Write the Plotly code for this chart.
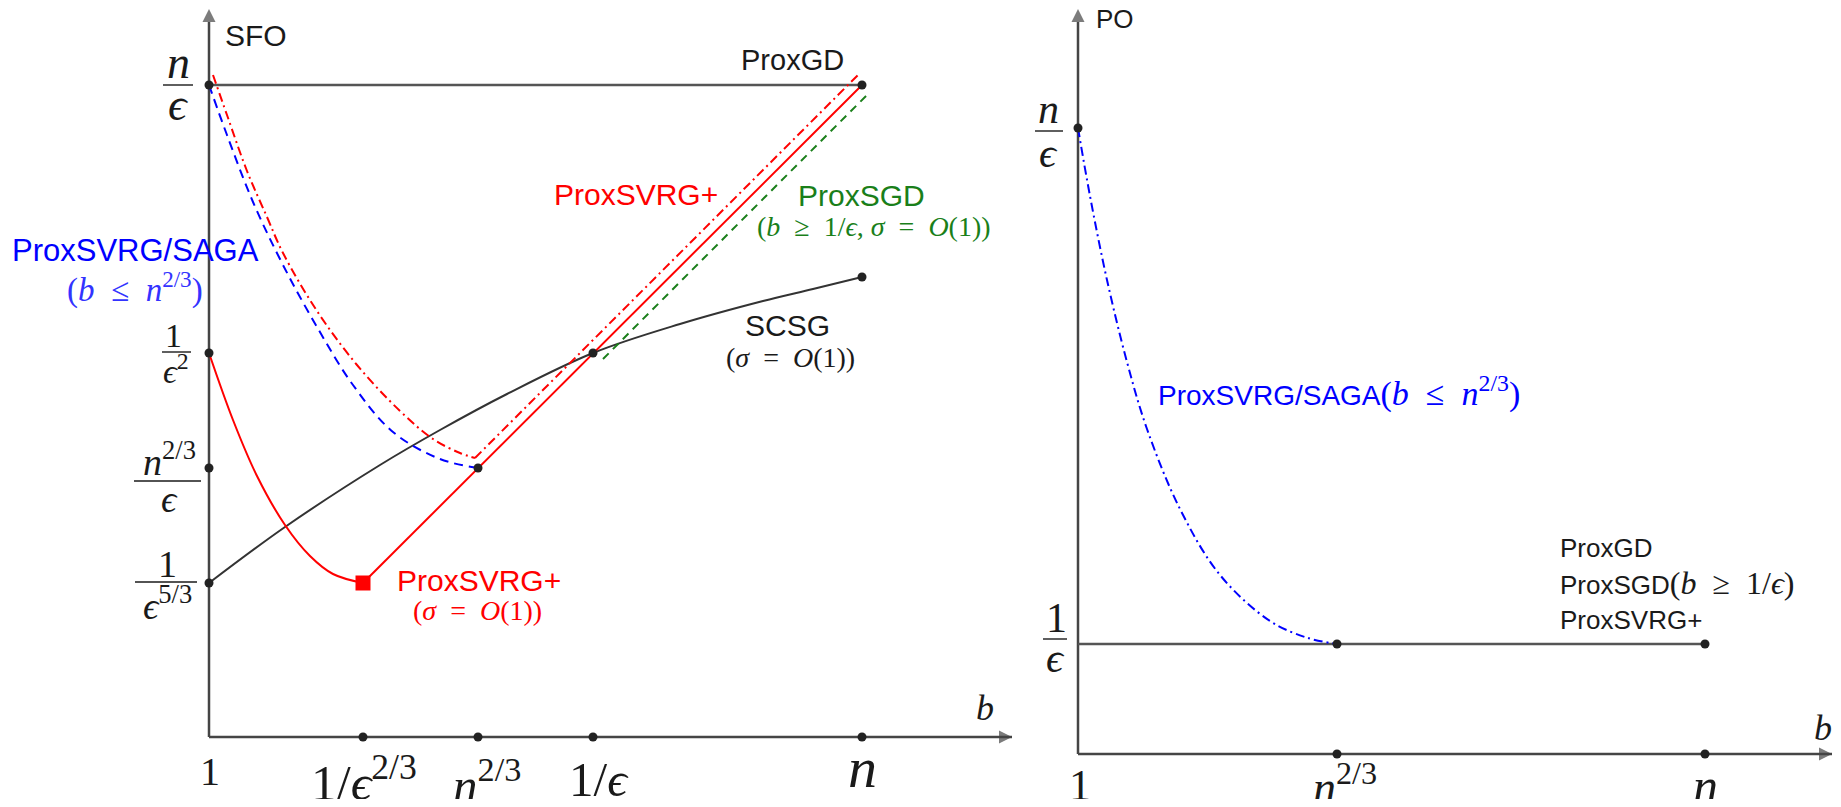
import plotly.graph_objects as go

SANS = "Liberation Sans, Arial, sans-serif"
SERIF = "Liberation Serif, DejaVu Serif, serif"
SERIF_CSS = "font-family:Liberation Serif,DejaVu Serif,serif"
INK = "#1a1a1a"
AXIS_C = "#454545"
RED = "#ff0000"
BLUE = "#0000ff"
LBLUE = "#3333ff"
GREEN = "#1a7f1a"
SP = "\u2002"  # wider space used around relations (TeX-like)

# ---------------- left panel: SFO vs minibatch b (schematic positions) ----------------
L_XTICK_POS = [0.0, 1.54, 2.69, 3.84, 6.53]
L_XTICK_TXT = ["1", "1/<i>ϵ</i><sup>2/3</sup>", "<i>n</i><sup>2/3</sup>", "1/<i>ϵ</i>", "<i>n</i>"]
L_YTICK_POS = [6.52, 3.84, 2.69, 1.54]
L_YTICK_NUM = ["<i>n</i>", "1", "<i>n</i><sup>2/3</sup>", "1"]
L_YTICK_DEN = ["<i>ϵ</i>", "<i>ϵ</i><sup>2</sup>", "<i>ϵ</i>", "<i>ϵ</i><sup>5/3</sup>"]
L_AXIS_END = [8.03, 7.28]

PROXGD_X = [0.0, 6.53]
PROXGD_Y = [6.52, 6.52]
SVRGP_CURVE_X = [0.0, 0.24, 0.48, 0.76, 1.01, 1.24, 1.54]
SVRGP_CURVE_Y = [3.84, 3.17, 2.61, 2.12, 1.81, 1.63, 1.54]
SVRGP_LINE_X = [1.54, 2.69, 3.84, 6.53]
SVRGP_LINE_Y = [1.54, 2.69, 3.84, 6.52]
SVRGP_SIG_CURVE_X = [0.04, 0.18, 0.38, 0.58, 0.74, 1.08, 1.48, 1.91, 2.24, 2.51, 2.66]
SVRGP_SIG_CURVE_Y = [6.62, 6.22, 5.66, 5.20, 4.84, 4.26, 3.72, 3.26, 2.98, 2.84, 2.79]
SVRGP_SIG_LINE_X = [2.66, 6.49]
SVRGP_SIG_LINE_Y = [2.79, 6.62]
SAGA_X = [0.0, 0.18, 0.44, 0.74, 1.08, 1.44, 1.84, 2.31, 2.69]
SAGA_Y = [6.52, 6.02, 5.35, 4.72, 4.10, 3.52, 3.05, 2.78, 2.69]
PROXSGD_X = [3.94, 6.60]
PROXSGD_Y = [3.78, 6.44]
SCSG_X = [0.0, 0.76, 1.71, 2.31, 2.98, 3.84, 4.71, 5.54, 6.04, 6.53]
SCSG_Y = [1.54, 2.10, 2.72, 3.07, 3.43, 3.84, 4.13, 4.36, 4.48, 4.60]
L_DOTS_X = [6.53, 2.69, 3.84, 6.53]
L_DOTS_Y = [6.52, 2.69, 3.84, 4.60]
SQUARE_X = [1.54]
SQUARE_Y = [1.54]

# ---------------- right panel: PO vs minibatch b ----------------
R_XTICK_POS = [0.0, 2.59, 6.27]
R_XTICK_TXT = ["1", "<i>n</i><sup>2/3</sup>", "<i>n</i>"]
R_YTICK_POS = [6.26, 1.10]
R_YTICK_NUM = ["<i>n</i>", "1"]
R_YTICK_DEN = ["<i>ϵ</i>", "<i>ϵ</i>"]
R_AXIS_END = [7.54, 7.45]
R_FLAT_X = [0.0, 2.59, 6.27]
R_FLAT_Y = [1.10, 1.10, 1.10]
R_SAGA_X = [0.0, 0.12, 0.29, 0.49, 0.69, 1.02, 1.42, 1.92, 2.30, 2.59]
R_SAGA_Y = [6.26, 5.58, 4.74, 3.92, 3.25, 2.45, 1.79, 1.33, 1.16, 1.10]
R_DOTS_X = [0.0, 2.59, 6.27]
R_DOTS_Y = [6.26, 1.10, 1.10]

fig = go.Figure()


def line(x, y, color, width=2.0, dash="solid", shape="linear", xa="x", ya="y"):
    fig.add_trace(go.Scatter(x=x, y=y, mode="lines", xaxis=xa, yaxis=ya,
                             line=dict(color=color, width=width, dash=dash, shape=shape, smoothing=1.0),
                             hoverinfo="skip", showlegend=False))


def dots(x, y, xa="x", ya="y", size=9, color="#222222", symbol="circle"):
    fig.add_trace(go.Scatter(x=x, y=y, mode="markers", xaxis=xa, yaxis=ya,
                             marker=dict(color=color, size=size, symbol=symbol, line=dict(width=0)),
                             hoverinfo="skip", showlegend=False))


def axis_arrow(x, y, symbol, xa="x", ya="y"):
    fig.add_trace(go.Scatter(x=x, y=y, mode="lines+markers", xaxis=xa, yaxis=ya,
                             line=dict(color=AXIS_C, width=2.5),
                             marker=dict(symbol=symbol, size=[0, 13], color=AXIS_C, line=dict(width=0)),
                             hoverinfo="skip", showlegend=False))


# axes
axis_arrow([0, L_AXIS_END[0]], [0, 0], "arrow-right")
axis_arrow([0, 0], [0, L_AXIS_END[1]], "arrow-up")
axis_arrow([0, R_AXIS_END[0]], [0, 0], "arrow-right", "x2", "y2")
axis_arrow([0, 0], [0, R_AXIS_END[1]], "arrow-up", "x2", "y2")

# left panel curves
line(PROXGD_X, PROXGD_Y, "#555555", 2.5)
line(SCSG_X, SCSG_Y, "#333333", 2.0, shape="spline")
line(SAGA_X, SAGA_Y, BLUE, 2.0, dash="9px,6px", shape="spline")
line(SVRGP_SIG_CURVE_X, SVRGP_SIG_CURVE_Y, RED, 2.0, dash="9px,4px,2px,4px", shape="spline")
line(SVRGP_SIG_LINE_X, SVRGP_SIG_LINE_Y, RED, 2.0, dash="9px,4px,2px,4px")
line(PROXSGD_X, PROXSGD_Y, GREEN, 2.0, dash="8px,6px")
line(SVRGP_CURVE_X, SVRGP_CURVE_Y, RED, 2.0, shape="spline")
line(SVRGP_LINE_X, SVRGP_LINE_Y, RED, 2.0)
dots(L_XTICK_POS[1:], [0] * (len(L_XTICK_POS) - 1))
dots([0] * len(L_YTICK_POS), L_YTICK_POS)
dots(L_DOTS_X, L_DOTS_Y)
dots(SQUARE_X, SQUARE_Y, size=15, color=RED, symbol="square")

# right panel curves
line(R_FLAT_X, R_FLAT_Y, "#555555", 2.5, xa="x2", ya="y2")
line(R_SAGA_X, R_SAGA_Y, BLUE, 2.0, dash="9px,4px,2px,4px", shape="spline", xa="x2", ya="y2")
dots(R_XTICK_POS[1:], [0] * (len(R_XTICK_POS) - 1), xa="x2", ya="y2")
dots(R_DOTS_X, R_DOTS_Y, xa="x2", ya="y2")

ann = []
shapes = []


def txt(xref, yref, x, y, text, size, color=INK, family=SANS, xanchor="center", dx=0, dy=0):
    ann.append(dict(x=x, y=y, xref=xref, yref=yref, text=text, showarrow=False,
                    xanchor=xanchor, yanchor="middle", xshift=dx, yshift=dy,
                    font=dict(family=family, size=size, color=color)))


def frac(xref, yref, yv, num, den, size, dxn, dyn, dxd, dyd, bx0, bx1, by):
    txt(xref, yref, 0, yv, num, size, family=SERIF, dx=dxn, dy=dyn)
    txt(xref, yref, 0, yv, den, size, family=SERIF, dx=dxd, dy=dyd)
    shapes.append(dict(type="line", xref=xref, yref=yref, xsizemode="pixel", xanchor=0,
                       x0=bx0, x1=bx1, ysizemode="pixel", yanchor=yv, y0=by, y1=by,
                       line=dict(color=INK, width=1.4)))


# left y tick fractions
L_FRAC_LAYOUT = [
    (46, -31, 23, -31, -19, -46, -16, 0),
    (34, -36, 18, -33, -16, -47, -18, 1),
    (38, -40, 9, -40, -31, -75, -8, -13),
    (38, -42, 19, -42, -20, -74, -12, 1),
]
for v, nm, dn, lay in zip(L_YTICK_POS, L_YTICK_NUM, L_YTICK_DEN, L_FRAC_LAYOUT):
    frac("x", "y", v, nm, dn, *lay)

# left x tick labels
L_XLAB_LAYOUT = [(40, 1, -34), (51, 1, -42), (49, 9, -44), (49, 6, -42), (58, 0, -30)]
for p, t, (s, dx, dy) in zip(L_XTICK_POS, L_XTICK_TXT, L_XLAB_LAYOUT):
    txt("x", "y", p, 0, t, s, family=SERIF, dx=dx, dy=dy)

# right y tick fractions
R_FRAC_LAYOUT = [
    (42, -30, 19, -30, -25, -43, -15, -3),
    (42, -22, 26, -23, -14, -35, -11, 5),
]
for v, nm, dn, lay in zip(R_YTICK_POS, R_YTICK_NUM, R_YTICK_DEN, R_FRAC_LAYOUT):
    frac("x2", "y2", v, nm, dn, *lay)

R_XLAB_LAYOUT = [(44, 2, -31), (46, 8, -30), (50, 0, -32)]
for p, t, (s, dx, dy) in zip(R_XTICK_POS, R_XTICK_TXT, R_XLAB_LAYOUT):
    txt("x2", "y2", p, 0, t, s, family=SERIF, dx=dx, dy=dy)

# left labels
txt("x", "y", 0.14, 7.02, "SFO", 30, xanchor="left")
txt("x", "y", 6.37, 6.77, "ProxGD", 29, xanchor="right")
txt("x", "y", -0.74, 4.87, "ProxSVRG/SAGA", 31, color=BLUE)
txt("x", "y", -0.74, 4.50, f"(<i>b</i>{SP}≤{SP}<i>n</i><sup>2/3</sup>)", 33, color=LBLUE, family=SERIF)
txt("x", "y", 4.27, 5.43, "ProxSVRG+", 30, color=RED)
txt("x", "y", 6.52, 5.42, "ProxSGD", 30, color=GREEN)
txt("x", "y", 6.65, 5.11, f"(<i>b</i>{SP}≥{SP}1/<i>ϵ</i>, <i>σ</i>{SP}={SP}<i>O</i>(1))", 28,
    color=GREEN, family=SERIF)
txt("x", "y", 5.78, 4.12, "SCSG", 30)
txt("x", "y", 5.81, 3.80, f"(<i>σ</i>{SP}={SP}<i>O</i>(1))", 28, family=SERIF)
txt("x", "y", 1.86, 1.57, "ProxSVRG+", 30, color=RED, xanchor="left")
txt("x", "y", 2.68, 1.27, f"(<i>σ</i>{SP}={SP}<i>O</i>(1))", 28, color=RED, family=SERIF)
txt("x", "y", 7.76, 0.29, "<i>b</i>", 36, family=SERIF)

# right labels
txt("x2", "y2", 0.16, 7.35, "PO", 26, xanchor="left")
txt("x2", "y2", 0.78, 3.63,
    f"ProxSVRG/SAGA<span style=\"{SERIF_CSS};font-size:34px\">(<i>b</i>{SP}≤{SP}<i>n</i><sup>2/3</sup>)</span>",
    28, color=BLUE, xanchor="left")
txt("x2", "y2", 4.80, 2.06, "ProxGD", 26, xanchor="left")
txt("x2", "y2", 4.80, 1.71,
    f"ProxSGD<span style=\"{SERIF_CSS};font-size:32px\">(<i>b</i>{SP}≥{SP}1/<i>ϵ</i>)</span>",
    26, xanchor="left")
txt("x2", "y2", 4.80, 1.34, "ProxSVRG+", 26, xanchor="left")
txt("x2", "y2", 7.45, 0.26, "<i>b</i>", 36, family=SERIF)

W, H = 1825, 791
split = 1012 / W
fig.update_layout(
    width=W, height=H,
    margin=dict(l=0, r=0, t=0, b=0),
    paper_bgcolor="white", plot_bgcolor="rgba(0,0,0,0)",
    showlegend=False,
    xaxis=dict(domain=[0, split], range=[-2.01, 8.11], visible=False, fixedrange=True),
    yaxis=dict(domain=[0, 1], range=[-0.62, 7.29], visible=False, fixedrange=True),
    xaxis2=dict(domain=[split, 1], range=[-0.58, 7.55], visible=False, anchor="y2", fixedrange=True),
    yaxis2=dict(domain=[0, 1], range=[-0.45, 7.46], visible=False, anchor="x2", fixedrange=True),
    annotations=ann,
    shapes=shapes,
)

fig.write_html("out.html")
